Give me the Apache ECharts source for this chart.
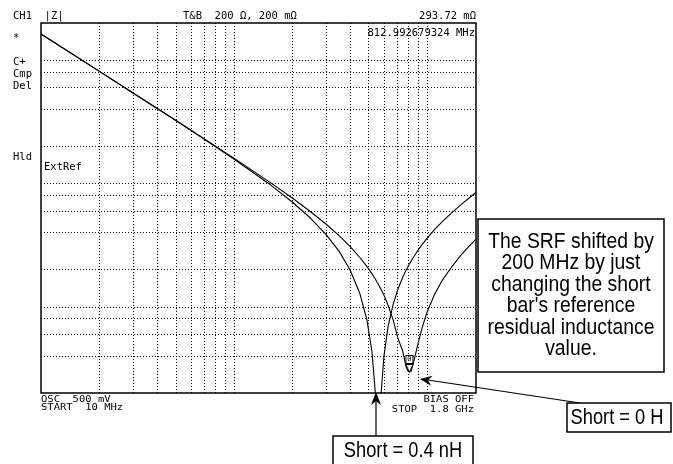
<!DOCTYPE html>
<html>
<head>
<meta charset="utf-8">
<script src="https://cdn.jsdelivr.net/npm/echarts@6/dist/echarts.min.js"></script>
<style>
html, body { margin: 0; padding: 0; background: #fff; }
#main { width: 673px; height: 464px; }
</style>
</head>
<body>
<div id="main"></div>
<script>
// sweep points, MHz
var freqMHz = [10, 15, 20, 30, 50, 70, 100, 150, 200, 250, 300, 350, 400, 450, 490, 520, 540, 552, 560, 568, 580, 600, 630, 670, 710, 750, 780, 800, 813, 830, 860, 900, 950, 1000, 1100, 1200, 1350, 1500, 1650, 1800];
// |Z| in ohm, short bar reference = 0.4 nH
var zShort04nH = [163, 108.6, 81.4, 54.1, 32.3, 22.9, 15.8, 10.1, 7.11, 5.22, 3.87, 2.84, 2.00, 1.28, 0.78, 0.43, 0.21, 0.12, 0.10, 0.12, 0.20, 0.40, 0.69, 1.05, 1.40, 1.73, 1.97, 2.12, 2.22, 2.35, 2.57, 2.87, 3.22, 3.57, 4.24, 4.88, 5.81, 6.71, 7.59, 8.45];
// |Z| in ohm, short bar reference = 0 H
var zShort0H = [163, 108.7, 81.4, 54.2, 32.5, 23.1, 16.05, 10.5, 7.66, 5.90, 4.69, 3.79, 3.09, 2.51, 2.12, 1.85, 1.69, 1.59, 1.53, 1.47, 1.38, 1.24, 1.03, 0.78, 0.55, 0.44, 0.33, 0.30, 0.294, 0.30, 0.37, 0.50, 0.69, 0.89, 1.27, 1.63, 2.12, 2.61, 3.08, 3.54];

// instrument graticule
var xGrid = [20, 30, 40, 50, 60, 70, 80, 90, 100, 200, 300, 400, 500, 600, 700, 800, 900, 1000];
var yGrid = [0.4, 0.6, 0.8, 1, 2, 4, 6, 8, 10, 20, 40, 60, 80, 100];

// marker readout
var markerPos = [812.992679324, 0.29372];

function pairs(ys) {
    return freqMHz.map(function (f, i) { return [f, ys[i]]; });
}

var mono = "'DejaVu Sans Mono', monospace";
var sans = "'Liberation Sans', Arial, sans-serif";

function scr(x, y, s, align, sy) {
    return {
        type: 'text', x: x, y: y, scaleY: sy || 1, silent: true,
        style: { text: s, fill: '#000', font: '10.5px ' + mono, align: align || 'left', verticalAlign: 'middle' }
    };
}

// condensed-looking caption text
function note(x, y, s, sx, va) {
    return {
        type: 'text', x: x, y: y, scaleX: sx, silent: true,
        style: { text: s, font: '22px ' + sans, lineHeight: 21.5, fill: '#000', align: 'center', verticalAlign: va || 'middle' }
    };
}

var graphics = [
    scr(13, 16, 'CH1  |Z|'),
    scr(183, 16, 'T&B  200 Ω, 200 mΩ'),
    scr(476, 16, '293.72 mΩ', 'right'),
    scr(475, 33, '812.992679324 MHz', 'right'),
    scr(13, 38, '*'),
    scr(13, 62, 'C+'),
    scr(13, 74, 'Cmp'),
    scr(13, 86, 'Del'),
    scr(13, 157, 'Hld'),
    scr(44, 167, 'ExtRef'),
    scr(41, 400, 'OSC  500 mV', 'left', 0.75),
    scr(41, 408, 'START  10 MHz', 'left', 0.75),
    scr(474, 400, 'BIAS OFF', 'right', 0.75),
    scr(474, 410, 'STOP  1.8 GHz', 'right', 0.75),

    // SRF note
    { type: 'rect', shape: { x: 478, y: 219, width: 186, height: 153 },
      style: { fill: '#fff', stroke: '#000', lineWidth: 1.5 } },
    note(571, 231, "The SRF shifted by\n200 MHz by just\nchanging the short\nbar's reference\nresidual inductance\nvalue.", 0.88, 'top'),

    // Short = 0.4 nH
    { type: 'line', shape: { x1: 376, y1: 436, x2: 376, y2: 400 }, style: { stroke: '#000', lineWidth: 1.2 } },
    { type: 'polygon', shape: { points: [[376, 392], [371, 405], [376, 401], [381, 405]] }, style: { fill: '#000' } },
    { type: 'rect', shape: { x: 333, y: 436, width: 140, height: 40 },
      style: { fill: '#fff', stroke: '#000', lineWidth: 1.5 } },
    note(403, 451, 'Short = 0.4 nH', 0.83),

    // Short = 0 H
    { type: 'line', shape: { x1: 580, y1: 403, x2: 428, y2: 380 }, style: { stroke: '#000', lineWidth: 1.2 } },
    { type: 'polygon', shape: { points: [[420, 379], [431.2, 385.7], [427.9, 380.2], [432.6, 375.8]] }, style: { fill: '#000' } },
    { type: 'rect', shape: { x: 567, y: 403, width: 104, height: 29 },
      style: { fill: '#fff', stroke: '#000', lineWidth: 1.5 } },
    note(617, 418, 'Short = 0 H', 0.83)
];

var option = {
    backgroundColor: '#fff',
    animation: false,
    grid: {
        left: 41, right: 197, top: 23, bottom: 71,
        show: true, borderColor: '#000', borderWidth: 1.5, backgroundColor: 'transparent'
    },
    xAxis: {
        type: 'log', logBase: 10, min: 10, max: 1800,
        axisLine: { show: false }, axisTick: { show: false },
        axisLabel: { show: false }, splitLine: { show: false }
    },
    yAxis: {
        type: 'log', logBase: 10, min: 0.2, max: 200,
        axisLine: { show: false }, axisTick: { show: false },
        axisLabel: { show: false }, splitLine: { show: false }
    },
    series: [
        {
            name: 'Short = 0.4 nH', type: 'line', data: pairs(zShort04nH),
            symbol: 'none', clip: true, silent: true,
            lineStyle: { color: '#000', width: 1.1 },
            markLine: {
                silent: true, symbol: ['none', 'none'], label: { show: false },
                emphasis: { disabled: true },
                lineStyle: { color: '#000', type: [1, 2], width: 1 },
                data: xGrid.map(function (v) { return { xAxis: v }; })
                    .concat(yGrid.map(function (v) { return { yAxis: v }; }))
            }
        },
        {
            name: 'Short = 0 H', type: 'line', data: pairs(zShort0H),
            symbol: 'none', clip: true, silent: true,
            lineStyle: { color: '#000', width: 1.1 },
            markPoint: {
                silent: true,
                data: [
                    { coord: markerPos, symbol: 'path://M0,0L10,0L5,11Z', symbolSize: [7, 8], symbolOffset: [0, -4],
                      itemStyle: { color: '#fff', borderColor: '#000', borderWidth: 1 }, label: { show: false } },
                    { coord: markerPos, symbol: 'rect', symbolSize: [7, 8], symbolOffset: [0, -13],
                      itemStyle: { color: '#fff', borderColor: '#000', borderWidth: 1 },
                      label: { show: true, formatter: '0', position: 'inside', color: '#000', fontSize: 7, fontFamily: mono } }
                ]
            }
        }
    ],
    graphic: graphics
};

var myChart = echarts.init(document.getElementById('main'));
myChart.setOption(option);
</script>
</body>
</html>
